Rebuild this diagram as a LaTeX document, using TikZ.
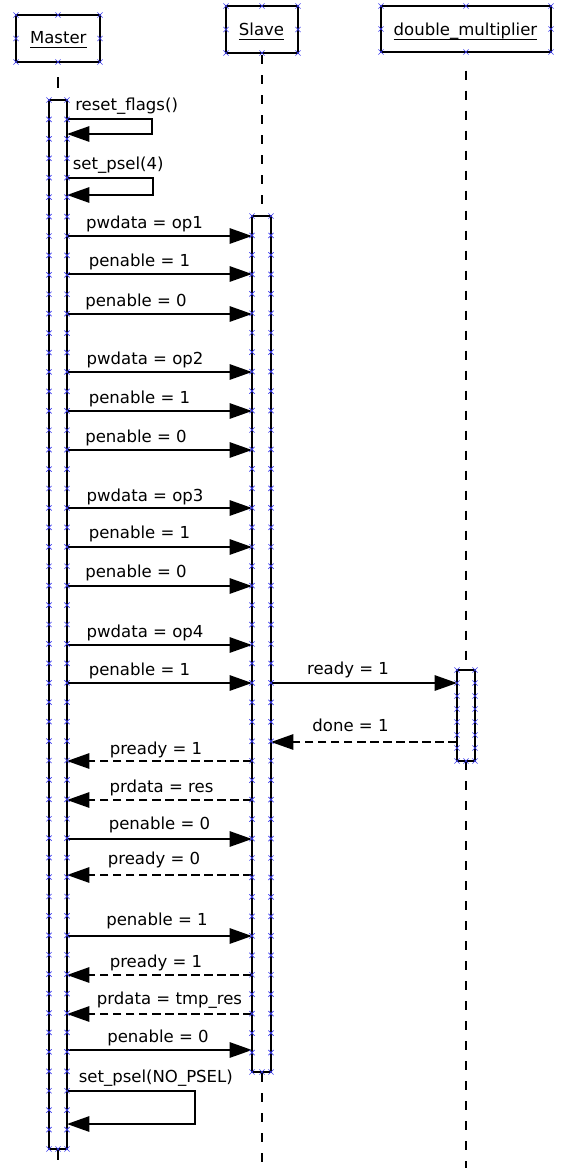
\documentclass[tikz,border=0pt]{standalone}
\usepackage{fontspec}
\setmainfont{DejaVu Sans}
\usetikzlibrary{arrows.meta}
\definecolor{mkblue}{RGB}{60,60,240}
\begin{document}
\begin{tikzpicture}[x=0.75pt,y=-0.75pt,
  font=\fontsize{12.4pt}{14pt}\selectfont,
  headbox/.style={draw,line width=1.7pt,inner sep=0pt,outer sep=0pt},
  headtext/.style={anchor=base,inner sep=0pt,outer sep=0pt},
  uline/.style={line width=0.9pt},
  actbar/.style={draw,fill=white,line width=1.2pt,inner sep=0pt,outer sep=0pt},
  lifeline/.style={line width=0.85pt,dash pattern=on 6.75pt off 8.25pt},
  msg/.style={line width=1.5pt,line join=miter,-{Triangle[length=16.8pt,width=11.5pt]}},
  reply/.style={msg,dash pattern=on 6.4pt off 3.4pt},
  lbl/.style={anchor=base,inner sep=0pt},
  lbll/.style={anchor=base west,inner sep=0pt},
  mks/.style={mkblue,line width=0.5pt}]
\useasboundingbox (0,0) rectangle (588,1168);

% lifelines (background)
\draw[line width=0.85pt] (58,77) -- (58,88);
\draw[lifeline] (262,55) -- (262,216);
\draw[lifeline] (466,70.7) -- (466,670);
\draw[lifeline] (466,761) -- (466,1168);
\draw[lifeline] (262,1073) -- (262,1166);
\draw[line width=0.85pt] (58,1150) -- (58,1160);

% header boxes
\node[headbox,minimum width=63pt,minimum height=35.25pt] (mh) at (58,38.5) {};
\node[headbox,minimum width=54pt,minimum height=35.25pt] (sh) at (262,29.5) {};
\node[headbox,minimum width=127.5pt,minimum height=34.5pt] (dh) at (466,29) {};
\node[headtext] (mt) at (58.3,43.3) {Master};
\node[headtext] (st) at (261.5,35.3) {Slave};
\node[headtext] (dt) at (465.5,35) {double\_multiplier};
\foreach \t in {mt,st,dt}
  \draw[uline] ([yshift=-3.2pt]\t.base west) -- ([yshift=-3.2pt]\t.base east);

% activation bars
\node[actbar,minimum width=13.5pt,minimum height=786.75pt] (mb) at (58,624.5) {};
\node[actbar,minimum width=14.25pt,minimum height=642pt] (sb) at (261.5,644) {};
\node[actbar,minimum width=13.5pt,minimum height=68.25pt] (db) at (466,715.5) {};

% self messages
\draw[msg] (mb.east |- 0,119) -- (152,119) -- (152,134) -- (mb.east |- 0,134);
\node[lbll] (lrf) at (75,110.5) {reset\_flags()};
\draw[msg] (mb.east |- 0,178) -- (153,178) -- (153,195) -- (mb.east |- 0,195);
\node[lbll] (lsp) at (72.5,169) {set\_psel(4)};
\draw[msg] (mb.east |- 0,1091) -- (195,1091) -- (195,1124) -- (mb.east |- 0,1124);
\node[lbll] (lnp) at (78.5,1082) {set\_psel(NO\_PSEL)};

% Master -> Slave
\foreach \y/\t/\lx/\ly [count=\i] in {
  236/pwdata = op1/144.5/228.5,
  274/penable = 1/139.5/266,
  314/penable = 0/136/306,
  372/pwdata = op2/145/364.5,
  411/penable = 1/139.5/403,
  450/penable = 0/136/442.5,
  508/pwdata = op3/145/501,
  547/penable = 1/139.5/538,
  586/penable = 0/136/577.5,
  645/pwdata = op4/145/637.5,
  683/penable = 1/139.5/675,
  839/penable = 0/159.5/829,
  936/penable = 1/157/925.5,
  1050/penable = 0/158/1042}{
  \draw[msg] (mb.east |- 0,\y) -- (sb.west |- 0,\y);
  \node[lbl] (ms\i) at (\lx,\ly) {\t};
}

% Slave -> Master (replies)
\foreach \y/\t/\lx/\ly [count=\i] in {
  761/pready = 1/156/754,
  800/prdata = res/161.5/792,
  875/pready = 0/154/864.5,
  975/pready = 1/156/967,
  1014/prdata = tmp\_res/169.5/1004.5}{
  \draw[reply] (sb.west |- 0,\y) -- (mb.east |- 0,\y);
  \node[lbl] (sm\i) at (\lx,\ly) {\t};
}

% Slave <-> double_multiplier
\draw[msg] (sb.east |- 0,683) -- (db.west |- 0,683);
\node[lbl] (lrd) at (348,674.5) {ready = 1};
\draw[reply] (db.west |- 0,742) -- (sb.east |- 0,742);
\node[lbl] (ldn) at (350.5,731) {done = 1};

% anchor markers
\foreach \x/\y in {16/15,58/15,100/15,16/38.5,100/38.5,16/62,58/62,100/62,
                   226/6,262/6,298/6,226/29.5,298/29.5,226/53,262/53,298/53,
                   381/6,466/6,551/6,381/29,551/29,381/52,466/52,551/52,
                   58/1149,262/1072,466/761}
  \draw[mks] (\x,\y) +(-2.6,-2.6) -- +(2.6,2.6) +(-2.6,2.6) -- +(2.6,-2.6);
\foreach \k in {0,...,54}{
  \pgfmathsetmacro\yy{100+\k*19.4259}
  \draw[mks] (49,\yy) +(-2.6,-2.6) -- +(2.6,2.6) +(-2.6,2.6) -- +(2.6,-2.6);
  \draw[mks] (67,\yy) +(-2.6,-2.6) -- +(2.6,2.6) +(-2.6,2.6) -- +(2.6,-2.6);
}
\foreach \k in {0,...,44}{
  \pgfmathsetmacro\yy{216+\k*19.4545}
  \draw[mks] (252,\yy) +(-2.6,-2.6) -- +(2.6,2.6) +(-2.6,2.6) -- +(2.6,-2.6);
  \draw[mks] (271,\yy) +(-2.6,-2.6) -- +(2.6,2.6) +(-2.6,2.6) -- +(2.6,-2.6);
}
\foreach \k in {0,...,7}{
  \pgfmathsetmacro\yy{670+\k*13}
  \draw[mks] (457,\yy) +(-2.6,-2.6) -- +(2.6,2.6) +(-2.6,2.6) -- +(2.6,-2.6);
  \draw[mks] (475,\yy) +(-2.6,-2.6) -- +(2.6,2.6) +(-2.6,2.6) -- +(2.6,-2.6);
}
\end{tikzpicture}
\end{document}
